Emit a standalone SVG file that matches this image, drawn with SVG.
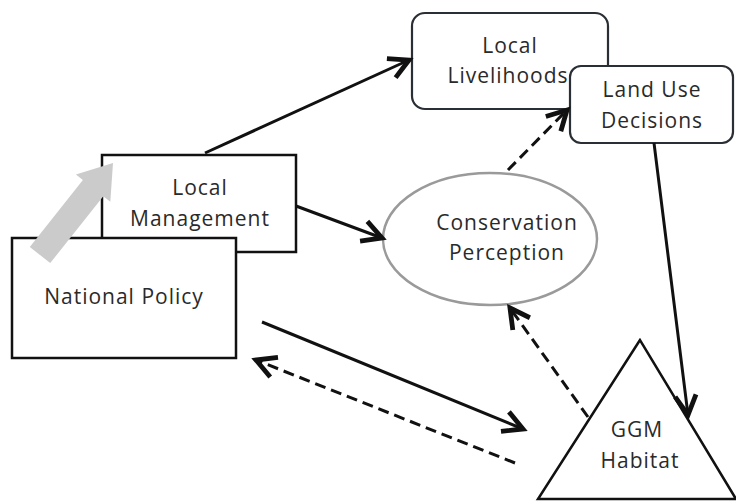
<svg xmlns="http://www.w3.org/2000/svg" width="736" height="503" viewBox="0 0 736 503">
<style>
.box{fill:#fff;stroke:#111;stroke-width:2.5}
.rbox{fill:#fff;stroke:#2a2f36;stroke-width:2.2}
.lbl{font-family:"Open Sans","Liberation Sans",sans-serif;font-size:21px;fill:#2a2a2a;text-anchor:middle;letter-spacing:1px}
.con{fill:none;stroke:#111;stroke-width:3}
.dash{stroke-dasharray:11 6}
</style>
<defs>
<marker id="ah" markerUnits="userSpaceOnUse" markerWidth="30" markerHeight="30" viewBox="-16 -10 20 20" refX="0" refY="0" orient="auto">
<path d="M-13,-7 L0,0 L-13,7" fill="none" stroke="#111" stroke-width="3.2" stroke-linejoin="miter"/>
</marker>
</defs>
<rect width="736" height="503" fill="#fff"/>
<g id="local-livelihoods">
<rect class="rbox" x="412" y="13" width="196" height="96" rx="13"/>
<text class="lbl" x="510" y="53">Local</text>
<text class="lbl" x="508" y="83">Livelihoods</text>
</g>
<g id="land-use-decisions">
<rect class="rbox" x="570" y="66" width="163" height="77" rx="11"/>
<text class="lbl" x="652" y="97">Land Use</text>
<text class="lbl" x="652" y="128">Decisions</text>
</g>
<g id="local-management">
<rect class="box" x="102" y="155" width="194" height="97"/>
<text class="lbl" x="200" y="195">Local</text>
<text class="lbl" x="200" y="226">Management</text>
</g>
<g id="national-policy">
<rect class="box" x="12" y="238" width="224" height="120"/>
<text class="lbl" x="124" y="304">National Policy</text>
</g>
<g id="policy-arrow">
<polygon points="29.8,246.9 82.9,180.0 75.9,174.4 113,163 110.3,201.8 103.3,196.2 50.2,263.1" fill="#cbcbcb"/>
</g>
<g id="conservation-perception">
<ellipse cx="490" cy="239" rx="107" ry="66" fill="#fff" stroke="#9a9a9a" stroke-width="2.5"/>
<text class="lbl" x="507" y="230">Conservation</text>
<text class="lbl" x="507" y="260">Perception</text>
</g>
<g id="ggm-habitat">
<polygon points="640,340 538,499 736,499" fill="#fff" stroke="#111" stroke-width="2.5"/>
<text class="lbl" x="637" y="437">GGM</text>
<text class="lbl" x="640" y="468">Habitat</text>
</g>
<g id="connectors">
<line class="con" x1="205" y1="153" x2="409" y2="60" marker-end="url(#ah)"/>
<line class="con" x1="296" y1="206" x2="382" y2="238" marker-end="url(#ah)"/>
<line class="con" x1="262" y1="322" x2="523" y2="429" marker-end="url(#ah)"/>
<line class="con dash" x1="515" y1="463" x2="256" y2="360" marker-end="url(#ah)"/>
<line class="con dash" x1="588" y1="417" x2="510" y2="308" marker-end="url(#ah)"/>
<line class="con dash" x1="508" y1="170" x2="567" y2="110" marker-end="url(#ah)"/>
<line class="con" x1="654" y1="143" x2="688" y2="415" marker-end="url(#ah)"/>
</g>
</svg>
